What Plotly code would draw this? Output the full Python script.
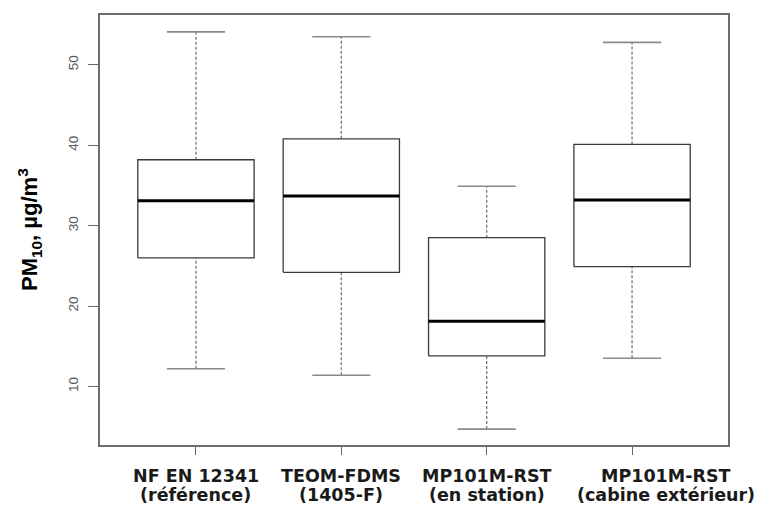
import plotly.graph_objects as go

# PM10 distribution per measurement method (µg/m3)
labels_top = ["NF EN 12341", "TEOM-FDMS", "MP101M-RST", "MP101M-RST"]
labels_bottom = ["(référence)", "(1405-F)", "(en station)", "(cabine extérieur)"]
whisker_low = [12.2, 11.4, 4.7, 13.5]
quart1 = [26.0, 24.2, 13.8, 24.9]
median = [33.1, 33.7, 18.1, 33.2]
quart3 = [38.2, 40.8, 28.5, 40.1]
whisker_high = [54.1, 53.5, 34.9, 52.8]
y_ticks = [10, 20, 30, 40, 50]

BOX_HALF = 0.4
CAP_HALF = 0.2
label_shift = [0, 0, 0, 34]
label_font = dict(family="DejaVu Sans", size=17.5, color="#1a1a1a", weight="bold")

fig = go.Figure()

for i in range(len(labels_top)):
    pos = i + 1
    # dashed whiskers
    for a, b in ((quart3[i], whisker_high[i]), (whisker_low[i], quart1[i])):
        fig.add_trace(go.Scatter(
            x=[pos, pos], y=[a, b], mode="lines",
            line=dict(color="#777777", width=1.3, dash="3px,2px"),
            hoverinfo="skip", showlegend=False))
    # whisker caps
    for v in (whisker_low[i], whisker_high[i]):
        fig.add_trace(go.Scatter(
            x=[pos - CAP_HALF, pos + CAP_HALF], y=[v, v], mode="lines",
            line=dict(color="#8a8a8a", width=1.6),
            hoverinfo="skip", showlegend=False))
    # box
    fig.add_trace(go.Scatter(
        x=[pos - BOX_HALF, pos + BOX_HALF, pos + BOX_HALF, pos - BOX_HALF, pos - BOX_HALF],
        y=[quart1[i], quart1[i], quart3[i], quart3[i], quart1[i]],
        mode="lines", line=dict(color="#3a3a3a", width=1.3),
        fill="toself", fillcolor="white",
        hoverinfo="skip", showlegend=False))
    # median
    fig.add_trace(go.Scatter(
        x=[pos - BOX_HALF, pos + BOX_HALF], y=[median[i], median[i]], mode="lines",
        line=dict(color="black", width=3),
        hoverinfo="skip", showlegend=False))
    # category label, two lines
    for text, shift in ((labels_top[i], -30.5), (labels_bottom[i], -49.5)):
        fig.add_annotation(
            x=pos, y=0, xref="x", yref="paper", yanchor="middle", xanchor="center",
            yshift=shift, xshift=label_shift[i], showarrow=False,
            text=text, font=label_font)

fig.add_annotation(
    x=0, y=0.5, xref="paper", yref="paper", xanchor="center", yanchor="middle",
    xshift=-71, textangle=-90, showarrow=False,
    text="PM<sub>10</sub>, µg/m<sup>3</sup>",
    font=dict(family="Liberation Sans", size=22, color="black", weight="bold"))

fig.update_layout(
    width=757, height=505,
    margin=dict(l=100, r=29, t=15, b=60),
    paper_bgcolor="white", plot_bgcolor="white",
    showlegend=False,
    xaxis=dict(
        range=[0.34, 4.66], tickvals=[1, 2, 3, 4], showticklabels=False,
        ticks="outside", ticklen=8, tickcolor="#666666", tickwidth=1.3,
        showline=True, mirror=True, linecolor="#6e6e6e", linewidth=1.6,
        showgrid=False, zeroline=False),
    yaxis=dict(
        range=[2.72, 56.2], tickvals=y_ticks, ticktext=[str(v) for v in y_ticks],
        tickangle=-90, ticks="outside", ticklen=10, tickcolor="#666666", tickwidth=1.3,
        ticklabelstandoff=5,
        tickfont=dict(family="Liberation Sans", size=13.5, color="#555555"),
        showline=True, mirror=True, linecolor="#6e6e6e", linewidth=1.6,
        showgrid=False, zeroline=False),
)

fig.write_html("out.html")
